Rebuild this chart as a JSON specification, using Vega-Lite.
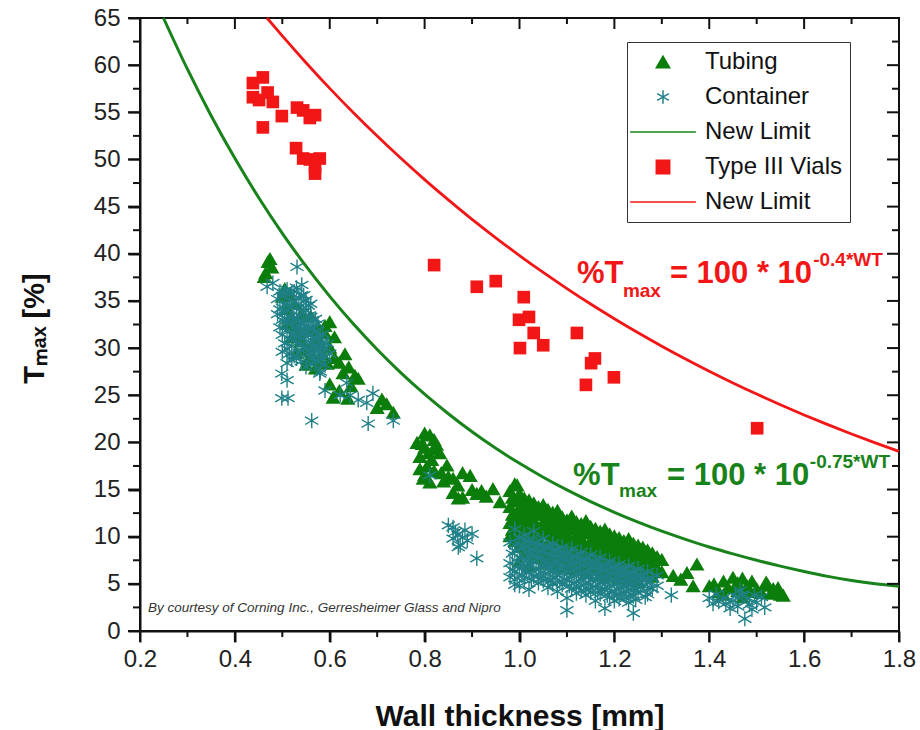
{
  "$schema": "https://vega.github.io/schema/vega-lite/v6.json",
  "width": 759,
  "height": 613,
  "autosize": {"type": "none"},
  "padding": {"left": 140, "top": 18, "right": 21, "bottom": 99},
  "background": "white",
  "config": {"view": {"stroke": "#111", "strokeWidth": 2}, "font": "Liberation Sans"},
  "datasets": {
    "xMajor": [{"v":0.2},{"v":0.4},{"v":0.6},{"v":0.8},{"v":1.0},{"v":1.2},{"v":1.4},{"v":1.6},{"v":1.8}],
    "xMinor": [{"v":0.3},{"v":0.5},{"v":0.7},{"v":0.9},{"v":1.1},{"v":1.3},{"v":1.5},{"v":1.7}],
    "yMajor": [{"v":0},{"v":5},{"v":10},{"v":15},{"v":20},{"v":25},{"v":30},{"v":35},{"v":40},{"v":45},{"v":50},{"v":55},{"v":60},{"v":65}],
    "yMinor": [{"v":2.5},{"v":7.5},{"v":12.5},{"v":17.5},{"v":22.5},{"v":27.5},{"v":32.5},{"v":37.5},{"v":42.5},{"v":47.5},{"v":52.5},{"v":57.5},{"v":62.5}],
    "tubing": [
      {"x":0.465,"y":38.0,"s":"Tubing"},{"x":0.470,"y":39.2,"s":"Tubing"},{"x":0.474,"y":39.5,"s":"Tubing"},{"x":0.478,"y":38.6,"s":"Tubing"},{"x":0.462,"y":37.6,"s":"Tubing"},
      {"x":0.50,"y":35.5,"s":"Tubing"},{"x":0.505,"y":36.3,"s":"Tubing"},{"x":0.51,"y":34.2,"s":"Tubing"},{"x":0.515,"y":35.8,"s":"Tubing"},{"x":0.52,"y":33.0,"s":"Tubing"},{"x":0.525,"y":34.8,"s":"Tubing"},{"x":0.53,"y":32.4,"s":"Tubing"},{"x":0.535,"y":31.5,"s":"Tubing"},{"x":0.54,"y":30.8,"s":"Tubing"},{"x":0.545,"y":29.8,"s":"Tubing"},{"x":0.55,"y":31.9,"s":"Tubing"},{"x":0.555,"y":28.9,"s":"Tubing"},{"x":0.56,"y":30.2,"s":"Tubing"},{"x":0.565,"y":29.1,"s":"Tubing"},{"x":0.57,"y":31.0,"s":"Tubing"},{"x":0.575,"y":32.3,"s":"Tubing"},{"x":0.58,"y":30.6,"s":"Tubing"},{"x":0.585,"y":29.4,"s":"Tubing"},{"x":0.59,"y":31.6,"s":"Tubing"},{"x":0.60,"y":30.1,"s":"Tubing"},{"x":0.595,"y":28.4,"s":"Tubing"},{"x":0.55,"y":28.3,"s":"Tubing"},{"x":0.53,"y":29.5,"s":"Tubing"},{"x":0.52,"y":31.2,"s":"Tubing"},{"x":0.54,"y":33.6,"s":"Tubing"},{"x":0.51,"y":32.6,"s":"Tubing"},{"x":0.56,"y":33.4,"s":"Tubing"},{"x":0.59,"y":32.4,"s":"Tubing"},{"x":0.565,"y":31.9,"s":"Tubing"},{"x":0.632,"y":29.4,"s":"Tubing"},{"x":0.58,"y":28.6,"s":"Tubing"},{"x":0.57,"y":27.9,"s":"Tubing"},{"x":0.60,"y":32.8,"s":"Tubing"},{"x":0.61,"y":31.2,"s":"Tubing"},
      {"x":0.628,"y":27.4,"s":"Tubing"},{"x":0.638,"y":24.7,"s":"Tubing"},{"x":0.607,"y":24.8,"s":"Tubing"},{"x":0.653,"y":27.1,"s":"Tubing"},{"x":0.72,"y":24.1,"s":"Tubing"},{"x":0.734,"y":23.2,"s":"Tubing"},{"x":0.70,"y":23.7,"s":"Tubing"},{"x":0.61,"y":29.0,"s":"Tubing"},{"x":0.62,"y":28.5,"s":"Tubing"},{"x":0.64,"y":28.0,"s":"Tubing"},{"x":0.66,"y":26.8,"s":"Tubing"},{"x":0.60,"y":26.2,"s":"Tubing"},{"x":0.62,"y":25.5,"s":"Tubing"},{"x":0.645,"y":26.0,"s":"Tubing"},{"x":0.71,"y":24.6,"s":"Tubing"},
      {"x":0.784,"y":20.0,"s":"Tubing"},{"x":0.811,"y":20.8,"s":"Tubing"},{"x":0.797,"y":16.2,"s":"Tubing"},{"x":0.811,"y":15.8,"s":"Tubing"},{"x":0.832,"y":18.9,"s":"Tubing"},{"x":0.847,"y":17.6,"s":"Tubing"},{"x":0.86,"y":14.7,"s":"Tubing"},{"x":0.871,"y":14.1,"s":"Tubing"},{"x":0.79,"y":18.5,"s":"Tubing"},{"x":0.80,"y":19.5,"s":"Tubing"},{"x":0.805,"y":17.5,"s":"Tubing"},{"x":0.815,"y":18.2,"s":"Tubing"},{"x":0.82,"y":17.0,"s":"Tubing"},{"x":0.825,"y":19.8,"s":"Tubing"},{"x":0.79,"y":17.2,"s":"Tubing"},{"x":0.80,"y":21.0,"s":"Tubing"},{"x":0.82,"y":20.3,"s":"Tubing"},{"x":0.835,"y":16.8,"s":"Tubing"},{"x":0.795,"y":19.9,"s":"Tubing"},{"x":0.808,"y":18.9,"s":"Tubing"},{"x":0.818,"y":19.3,"s":"Tubing"},{"x":0.80,"y":16.6,"s":"Tubing"},{"x":0.84,"y":15.9,"s":"Tubing"},{"x":0.85,"y":16.4,"s":"Tubing"},
      {"x":0.896,"y":16.5,"s":"Tubing"},{"x":0.944,"y":15.1,"s":"Tubing"},{"x":0.959,"y":13.7,"s":"Tubing"},{"x":0.995,"y":15.5,"s":"Tubing"},{"x":0.87,"y":15.5,"s":"Tubing"},{"x":0.88,"y":14.2,"s":"Tubing"},{"x":0.90,"y":15.0,"s":"Tubing"},{"x":0.91,"y":14.6,"s":"Tubing"},{"x":0.92,"y":14.9,"s":"Tubing"},{"x":0.93,"y":14.3,"s":"Tubing"},{"x":0.86,"y":16.2,"s":"Tubing"},{"x":0.88,"y":16.8,"s":"Tubing"},
      {"x":0.98,"y":14.9,"s":"Tubing"},{"x":0.98,"y":13.2,"s":"Tubing"},{"x":0.98,"y":11.5,"s":"Tubing"},{"x":0.98,"y":10.1,"s":"Tubing"},
      {"x":0.985,"y":14.2,"s":"Tubing"},{"x":0.985,"y":12.4,"s":"Tubing"},{"x":0.985,"y":10.8,"s":"Tubing"},
      {"x":0.99,"y":15.6,"s":"Tubing"},{"x":0.99,"y":13.8,"s":"Tubing"},{"x":0.99,"y":12.0,"s":"Tubing"},{"x":0.99,"y":9.6,"s":"Tubing"},
      {"x":0.995,"y":14.0,"s":"Tubing"},{"x":0.995,"y":12.6,"s":"Tubing"},{"x":0.995,"y":10.4,"s":"Tubing"},
      {"x":1.00,"y":14.6,"s":"Tubing"},{"x":1.00,"y":12.9,"s":"Tubing"},{"x":1.00,"y":11.2,"s":"Tubing"},{"x":1.00,"y":9.0,"s":"Tubing"},{"x":1.00,"y":7.4,"s":"Tubing"},
      {"x":1.005,"y":13.5,"s":"Tubing"},{"x":1.005,"y":11.8,"s":"Tubing"},{"x":1.005,"y":9.9,"s":"Tubing"},
      {"x":1.01,"y":14.1,"s":"Tubing"},{"x":1.01,"y":12.5,"s":"Tubing"},{"x":1.01,"y":10.6,"s":"Tubing"},{"x":1.01,"y":8.3,"s":"Tubing"},
      {"x":1.015,"y":13.4,"s":"Tubing"},{"x":1.015,"y":11.5,"s":"Tubing"},{"x":1.015,"y":9.4,"s":"Tubing"},
      {"x":1.02,"y":13.9,"s":"Tubing"},{"x":1.02,"y":12.2,"s":"Tubing"},{"x":1.02,"y":10.9,"s":"Tubing"},{"x":1.02,"y":8.8,"s":"Tubing"},{"x":1.02,"y":6.9,"s":"Tubing"},
      {"x":1.025,"y":13.1,"s":"Tubing"},{"x":1.025,"y":11.2,"s":"Tubing"},{"x":1.025,"y":9.7,"s":"Tubing"},
      {"x":1.03,"y":13.6,"s":"Tubing"},{"x":1.03,"y":11.8,"s":"Tubing"},{"x":1.03,"y":10.2,"s":"Tubing"},{"x":1.03,"y":7.8,"s":"Tubing"},
      {"x":1.035,"y":12.9,"s":"Tubing"},{"x":1.035,"y":11.0,"s":"Tubing"},{"x":1.035,"y":9.1,"s":"Tubing"},
      {"x":1.04,"y":13.2,"s":"Tubing"},{"x":1.04,"y":12.4,"s":"Tubing"},{"x":1.04,"y":9.9,"s":"Tubing"},{"x":1.04,"y":8.1,"s":"Tubing"},
      {"x":1.045,"y":12.7,"s":"Tubing"},{"x":1.045,"y":10.8,"s":"Tubing"},{"x":1.045,"y":8.9,"s":"Tubing"},
      {"x":1.05,"y":13.4,"s":"Tubing"},{"x":1.05,"y":11.6,"s":"Tubing"},{"x":1.05,"y":10.4,"s":"Tubing"},{"x":1.05,"y":7.2,"s":"Tubing"},
      {"x":1.055,"y":12.4,"s":"Tubing"},{"x":1.055,"y":10.9,"s":"Tubing"},{"x":1.055,"y":8.6,"s":"Tubing"},
      {"x":1.06,"y":12.9,"s":"Tubing"},{"x":1.06,"y":11.3,"s":"Tubing"},{"x":1.06,"y":9.5,"s":"Tubing"},{"x":1.06,"y":8.0,"s":"Tubing"},
      {"x":1.065,"y":12.2,"s":"Tubing"},{"x":1.065,"y":10.5,"s":"Tubing"},{"x":1.065,"y":8.8,"s":"Tubing"},
      {"x":1.07,"y":12.6,"s":"Tubing"},{"x":1.07,"y":11.0,"s":"Tubing"},{"x":1.07,"y":9.8,"s":"Tubing"},{"x":1.07,"y":7.5,"s":"Tubing"},
      {"x":1.075,"y":12.0,"s":"Tubing"},{"x":1.075,"y":10.2,"s":"Tubing"},{"x":1.075,"y":8.5,"s":"Tubing"},
      {"x":1.08,"y":12.8,"s":"Tubing"},{"x":1.08,"y":11.4,"s":"Tubing"},{"x":1.08,"y":9.2,"s":"Tubing"},{"x":1.08,"y":6.8,"s":"Tubing"},
      {"x":1.085,"y":11.9,"s":"Tubing"},{"x":1.085,"y":10.0,"s":"Tubing"},{"x":1.085,"y":8.2,"s":"Tubing"},
      {"x":1.09,"y":12.1,"s":"Tubing"},{"x":1.09,"y":10.7,"s":"Tubing"},{"x":1.09,"y":9.4,"s":"Tubing"},{"x":1.09,"y":7.7,"s":"Tubing"},
      {"x":1.095,"y":11.6,"s":"Tubing"},{"x":1.095,"y":9.9,"s":"Tubing"},{"x":1.095,"y":8.4,"s":"Tubing"},
      {"x":1.10,"y":11.8,"s":"Tubing"},{"x":1.10,"y":10.3,"s":"Tubing"},{"x":1.10,"y":8.9,"s":"Tubing"},{"x":1.10,"y":7.1,"s":"Tubing"},
      {"x":1.105,"y":11.3,"s":"Tubing"},{"x":1.105,"y":9.6,"s":"Tubing"},{"x":1.105,"y":8.0,"s":"Tubing"},
      {"x":1.11,"y":12.2,"s":"Tubing"},{"x":1.11,"y":10.8,"s":"Tubing"},{"x":1.11,"y":9.1,"s":"Tubing"},{"x":1.11,"y":6.6,"s":"Tubing"},
      {"x":1.115,"y":11.5,"s":"Tubing"},{"x":1.115,"y":9.7,"s":"Tubing"},{"x":1.115,"y":7.9,"s":"Tubing"},
      {"x":1.12,"y":11.6,"s":"Tubing"},{"x":1.12,"y":10.1,"s":"Tubing"},{"x":1.12,"y":8.6,"s":"Tubing"},{"x":1.12,"y":7.3,"s":"Tubing"},
      {"x":1.125,"y":11.0,"s":"Tubing"},{"x":1.125,"y":9.4,"s":"Tubing"},{"x":1.125,"y":7.8,"s":"Tubing"},
      {"x":1.13,"y":11.4,"s":"Tubing"},{"x":1.13,"y":9.9,"s":"Tubing"},{"x":1.13,"y":8.4,"s":"Tubing"},{"x":1.13,"y":6.9,"s":"Tubing"},
      {"x":1.135,"y":10.9,"s":"Tubing"},{"x":1.135,"y":9.2,"s":"Tubing"},{"x":1.135,"y":7.6,"s":"Tubing"},
      {"x":1.14,"y":11.7,"s":"Tubing"},{"x":1.14,"y":10.4,"s":"Tubing"},{"x":1.14,"y":8.8,"s":"Tubing"},{"x":1.14,"y":6.2,"s":"Tubing"},
      {"x":1.145,"y":11.2,"s":"Tubing"},{"x":1.145,"y":9.0,"s":"Tubing"},{"x":1.145,"y":7.4,"s":"Tubing"},
      {"x":1.15,"y":11.1,"s":"Tubing"},{"x":1.15,"y":9.6,"s":"Tubing"},{"x":1.15,"y":8.0,"s":"Tubing"},{"x":1.15,"y":6.8,"s":"Tubing"},
      {"x":1.155,"y":10.6,"s":"Tubing"},{"x":1.155,"y":8.7,"s":"Tubing"},{"x":1.155,"y":7.2,"s":"Tubing"},
      {"x":1.16,"y":10.9,"s":"Tubing"},{"x":1.16,"y":9.4,"s":"Tubing"},{"x":1.16,"y":8.3,"s":"Tubing"},{"x":1.16,"y":6.5,"s":"Tubing"},
      {"x":1.165,"y":10.4,"s":"Tubing"},{"x":1.165,"y":8.9,"s":"Tubing"},{"x":1.165,"y":7.0,"s":"Tubing"},
      {"x":1.17,"y":10.6,"s":"Tubing"},{"x":1.17,"y":9.2,"s":"Tubing"},{"x":1.17,"y":7.8,"s":"Tubing"},{"x":1.17,"y":5.9,"s":"Tubing"},
      {"x":1.175,"y":10.1,"s":"Tubing"},{"x":1.175,"y":8.5,"s":"Tubing"},{"x":1.175,"y":6.9,"s":"Tubing"},
      {"x":1.18,"y":10.8,"s":"Tubing"},{"x":1.18,"y":9.5,"s":"Tubing"},{"x":1.18,"y":7.6,"s":"Tubing"},{"x":1.18,"y":6.4,"s":"Tubing"},
      {"x":1.185,"y":10.0,"s":"Tubing"},{"x":1.185,"y":8.2,"s":"Tubing"},{"x":1.185,"y":6.7,"s":"Tubing"},
      {"x":1.19,"y":10.3,"s":"Tubing"},{"x":1.19,"y":8.9,"s":"Tubing"},{"x":1.19,"y":7.4,"s":"Tubing"},{"x":1.19,"y":5.8,"s":"Tubing"},
      {"x":1.195,"y":9.7,"s":"Tubing"},{"x":1.195,"y":8.0,"s":"Tubing"},{"x":1.195,"y":6.5,"s":"Tubing"},
      {"x":1.20,"y":10.1,"s":"Tubing"},{"x":1.20,"y":8.7,"s":"Tubing"},{"x":1.20,"y":7.7,"s":"Tubing"},{"x":1.20,"y":6.1,"s":"Tubing"},
      {"x":1.205,"y":9.5,"s":"Tubing"},{"x":1.205,"y":7.9,"s":"Tubing"},{"x":1.205,"y":6.6,"s":"Tubing"},
      {"x":1.21,"y":9.9,"s":"Tubing"},{"x":1.21,"y":8.5,"s":"Tubing"},{"x":1.21,"y":7.2,"s":"Tubing"},{"x":1.21,"y":5.6,"s":"Tubing"},
      {"x":1.215,"y":9.2,"s":"Tubing"},{"x":1.215,"y":7.7,"s":"Tubing"},{"x":1.215,"y":6.3,"s":"Tubing"},
      {"x":1.22,"y":9.6,"s":"Tubing"},{"x":1.22,"y":8.3,"s":"Tubing"},{"x":1.22,"y":7.0,"s":"Tubing"},{"x":1.22,"y":5.9,"s":"Tubing"},
      {"x":1.225,"y":9.0,"s":"Tubing"},{"x":1.225,"y":7.5,"s":"Tubing"},{"x":1.225,"y":6.2,"s":"Tubing"},
      {"x":1.23,"y":9.8,"s":"Tubing"},{"x":1.23,"y":8.1,"s":"Tubing"},{"x":1.23,"y":6.8,"s":"Tubing"},{"x":1.23,"y":5.4,"s":"Tubing"},
      {"x":1.235,"y":8.8,"s":"Tubing"},{"x":1.235,"y":7.3,"s":"Tubing"},{"x":1.235,"y":6.0,"s":"Tubing"},
      {"x":1.24,"y":9.3,"s":"Tubing"},{"x":1.24,"y":8.4,"s":"Tubing"},{"x":1.24,"y":6.6,"s":"Tubing"},{"x":1.24,"y":5.7,"s":"Tubing"},
      {"x":1.245,"y":8.6,"s":"Tubing"},{"x":1.245,"y":7.1,"s":"Tubing"},{"x":1.245,"y":5.9,"s":"Tubing"},
      {"x":1.25,"y":9.1,"s":"Tubing"},{"x":1.25,"y":7.9,"s":"Tubing"},{"x":1.25,"y":6.9,"s":"Tubing"},{"x":1.25,"y":5.2,"s":"Tubing"},
      {"x":1.255,"y":8.4,"s":"Tubing"},{"x":1.255,"y":6.8,"s":"Tubing"},
      {"x":1.26,"y":8.9,"s":"Tubing"},{"x":1.26,"y":7.6,"s":"Tubing"},{"x":1.26,"y":6.4,"s":"Tubing"},
      {"x":1.265,"y":8.1,"s":"Tubing"},{"x":1.265,"y":6.7,"s":"Tubing"},
      {"x":1.27,"y":8.6,"s":"Tubing"},{"x":1.27,"y":7.4,"s":"Tubing"},{"x":1.27,"y":6.1,"s":"Tubing"},
      {"x":1.275,"y":7.9,"s":"Tubing"},{"x":1.275,"y":6.5,"s":"Tubing"},
      {"x":1.28,"y":8.3,"s":"Tubing"},{"x":1.28,"y":7.1,"s":"Tubing"},{"x":1.28,"y":5.8,"s":"Tubing"},
      {"x":1.29,"y":7.9,"s":"Tubing"},{"x":1.29,"y":6.7,"s":"Tubing"},
      {"x":1.30,"y":7.6,"s":"Tubing"},{"x":1.30,"y":6.3,"s":"Tubing"},
      {"x":1.324,"y":5.9,"s":"Tubing"},{"x":1.353,"y":6.2,"s":"Tubing"},{"x":1.374,"y":7.1,"s":"Tubing"},{"x":1.366,"y":4.8,"s":"Tubing"},{"x":1.40,"y":4.8,"s":"Tubing"},{"x":1.34,"y":5.5,"s":"Tubing"},
      {"x":1.43,"y":5.3,"s":"Tubing"},{"x":1.45,"y":5.7,"s":"Tubing"},{"x":1.47,"y":5.6,"s":"Tubing"},{"x":1.49,"y":5.3,"s":"Tubing"},{"x":1.524,"y":4.85,"s":"Tubing"},{"x":1.545,"y":4.6,"s":"Tubing"},{"x":1.556,"y":3.8,"s":"Tubing"},{"x":1.42,"y":4.2,"s":"Tubing"},{"x":1.44,"y":4.6,"s":"Tubing"},{"x":1.46,"y":4.3,"s":"Tubing"},{"x":1.48,"y":4.8,"s":"Tubing"},{"x":1.50,"y":4.5,"s":"Tubing"},{"x":1.51,"y":4.1,"s":"Tubing"},{"x":1.53,"y":4.0,"s":"Tubing"},{"x":1.55,"y":3.9,"s":"Tubing"},{"x":1.43,"y":3.9,"s":"Tubing"},{"x":1.47,"y":3.6,"s":"Tubing"},{"x":1.41,"y":5.0,"s":"Tubing"},{"x":1.52,"y":5.2,"s":"Tubing"},{"x":1.46,"y":5.1,"s":"Tubing"},{"x":1.455,"y":4.8,"s":"Tubing"},{"x":1.485,"y":4.2,"s":"Tubing"},{"x":1.535,"y":4.5,"s":"Tubing"}
    ],
    "container": [
      {"x":0.531,"y":38.6,"s":"Container"},{"x":0.468,"y":36.5,"s":"Container"},{"x":0.541,"y":36.7,"s":"Container"},{"x":0.48,"y":36.9,"s":"Container"},
      {"x":0.49,"y":35.2,"s":"Container"},{"x":0.49,"y":33.6,"s":"Container"},{"x":0.495,"y":34.1,"s":"Container"},{"x":0.495,"y":32.2,"s":"Container"},{"x":0.495,"y":36.0,"s":"Container"},
      {"x":0.50,"y":35.5,"s":"Container"},{"x":0.50,"y":33.0,"s":"Container"},{"x":0.50,"y":31.4,"s":"Container"},{"x":0.50,"y":29.6,"s":"Container"},{"x":0.50,"y":34.3,"s":"Container"},
      {"x":0.505,"y":34.6,"s":"Container"},{"x":0.505,"y":32.8,"s":"Container"},{"x":0.505,"y":30.5,"s":"Container"},{"x":0.505,"y":35.9,"s":"Container"},
      {"x":0.51,"y":36.2,"s":"Container"},{"x":0.51,"y":34.0,"s":"Container"},{"x":0.51,"y":31.9,"s":"Container"},{"x":0.51,"y":29.9,"s":"Container"},{"x":0.51,"y":28.4,"s":"Container"},{"x":0.51,"y":33.1,"s":"Container"},
      {"x":0.515,"y":35.1,"s":"Container"},{"x":0.515,"y":33.3,"s":"Container"},{"x":0.515,"y":31.0,"s":"Container"},{"x":0.515,"y":29.4,"s":"Container"},
      {"x":0.52,"y":35.8,"s":"Container"},{"x":0.52,"y":34.4,"s":"Container"},{"x":0.52,"y":32.5,"s":"Container"},{"x":0.52,"y":30.2,"s":"Container"},{"x":0.52,"y":28.8,"s":"Container"},{"x":0.52,"y":31.4,"s":"Container"},
      {"x":0.525,"y":34.9,"s":"Container"},{"x":0.525,"y":33.1,"s":"Container"},{"x":0.525,"y":31.5,"s":"Container"},{"x":0.525,"y":29.2,"s":"Container"},{"x":0.525,"y":36.0,"s":"Container"},
      {"x":0.53,"y":36.4,"s":"Container"},{"x":0.53,"y":34.2,"s":"Container"},{"x":0.53,"y":32.0,"s":"Container"},{"x":0.53,"y":30.7,"s":"Container"},{"x":0.53,"y":33.2,"s":"Container"},{"x":0.53,"y":28.9,"s":"Container"},
      {"x":0.535,"y":35.3,"s":"Container"},{"x":0.535,"y":33.5,"s":"Container"},{"x":0.535,"y":31.2,"s":"Container"},{"x":0.535,"y":29.5,"s":"Container"},{"x":0.535,"y":32.4,"s":"Container"},
      {"x":0.54,"y":34.5,"s":"Container"},{"x":0.54,"y":32.7,"s":"Container"},{"x":0.54,"y":30.4,"s":"Container"},{"x":0.54,"y":28.6,"s":"Container"},{"x":0.54,"y":35.6,"s":"Container"},{"x":0.54,"y":31.5,"s":"Container"},
      {"x":0.545,"y":35.6,"s":"Container"},{"x":0.545,"y":33.8,"s":"Container"},{"x":0.545,"y":31.7,"s":"Container"},{"x":0.545,"y":30.1,"s":"Container"},{"x":0.545,"y":32.6,"s":"Container"},
      {"x":0.55,"y":34.0,"s":"Container"},{"x":0.55,"y":32.3,"s":"Container"},{"x":0.55,"y":30.0,"s":"Container"},{"x":0.55,"y":28.0,"s":"Container"},{"x":0.55,"y":35.1,"s":"Container"},{"x":0.55,"y":31.2,"s":"Container"},
      {"x":0.555,"y":33.4,"s":"Container"},{"x":0.555,"y":31.4,"s":"Container"},{"x":0.555,"y":29.3,"s":"Container"},{"x":0.555,"y":34.5,"s":"Container"},{"x":0.555,"y":32.2,"s":"Container"},
      {"x":0.56,"y":34.7,"s":"Container"},{"x":0.56,"y":32.1,"s":"Container"},{"x":0.56,"y":30.6,"s":"Container"},{"x":0.56,"y":28.3,"s":"Container"},{"x":0.56,"y":33.3,"s":"Container"},{"x":0.56,"y":29.5,"s":"Container"},
      {"x":0.565,"y":33.0,"s":"Container"},{"x":0.565,"y":31.1,"s":"Container"},{"x":0.565,"y":29.0,"s":"Container"},{"x":0.565,"y":32.1,"s":"Container"},{"x":0.565,"y":30.2,"s":"Container"},
      {"x":0.57,"y":31.8,"s":"Container"},{"x":0.57,"y":30.3,"s":"Container"},{"x":0.57,"y":28.7,"s":"Container"},{"x":0.57,"y":33.1,"s":"Container"},{"x":0.57,"y":29.6,"s":"Container"},
      {"x":0.575,"y":32.6,"s":"Container"},{"x":0.575,"y":29.8,"s":"Container"},{"x":0.575,"y":31.0,"s":"Container"},{"x":0.575,"y":28.5,"s":"Container"},
      {"x":0.58,"y":31.3,"s":"Container"},{"x":0.58,"y":29.5,"s":"Container"},{"x":0.58,"y":27.5,"s":"Container"},{"x":0.58,"y":30.4,"s":"Container"},
      {"x":0.585,"y":30.6,"s":"Container"},{"x":0.585,"y":28.9,"s":"Container"},{"x":0.585,"y":31.5,"s":"Container"},{"x":0.59,"y":30.0,"s":"Container"},{"x":0.59,"y":28.2,"s":"Container"},{"x":0.59,"y":29.1,"s":"Container"},{"x":0.60,"y":29.4,"s":"Container"},{"x":0.595,"y":30.5,"s":"Container"},
      {"x":0.499,"y":27.3,"s":"Container"},{"x":0.51,"y":26.6,"s":"Container"},{"x":0.499,"y":24.7,"s":"Container"},{"x":0.512,"y":24.7,"s":"Container"},{"x":0.562,"y":22.3,"s":"Container"},{"x":0.59,"y":25.5,"s":"Container"},{"x":0.579,"y":27.3,"s":"Container"},{"x":0.622,"y":25.0,"s":"Container"},{"x":0.643,"y":25.0,"s":"Container"},{"x":0.66,"y":24.5,"s":"Container"},{"x":0.678,"y":24.2,"s":"Container"},{"x":0.691,"y":25.2,"s":"Container"},{"x":0.681,"y":22.0,"s":"Container"},{"x":0.734,"y":22.3,"s":"Container"},{"x":0.636,"y":26.3,"s":"Container"},
      {"x":0.811,"y":16.5,"s":"Container"},{"x":0.85,"y":11.2,"s":"Container"},{"x":0.86,"y":9.8,"s":"Container"},{"x":0.871,"y":8.9,"s":"Container"},{"x":0.885,"y":10.7,"s":"Container"},{"x":0.875,"y":9.1,"s":"Container"},{"x":0.91,"y":7.7,"s":"Container"},{"x":0.87,"y":10.2,"s":"Container"},{"x":0.89,"y":9.6,"s":"Container"},{"x":0.86,"y":11.0,"s":"Container"},{"x":0.90,"y":10.3,"s":"Container"},{"x":0.865,"y":10.5,"s":"Container"},{"x":0.88,"y":9.9,"s":"Container"},
      {"x":0.98,"y":9.4,"s":"Container"},{"x":0.98,"y":7.2,"s":"Container"},{"x":0.98,"y":5.7,"s":"Container"},{"x":0.985,"y":8.2,"s":"Container"},{"x":0.985,"y":6.5,"s":"Container"},
      {"x":0.99,"y":10.8,"s":"Container"},{"x":0.99,"y":8.5,"s":"Container"},{"x":0.99,"y":6.3,"s":"Container"},{"x":0.99,"y":4.9,"s":"Container"},{"x":0.995,"y":9.3,"s":"Container"},{"x":0.995,"y":7.4,"s":"Container"},{"x":0.995,"y":5.6,"s":"Container"},
      {"x":1.00,"y":9.9,"s":"Container"},{"x":1.00,"y":7.8,"s":"Container"},{"x":1.00,"y":6.6,"s":"Container"},{"x":1.00,"y":4.8,"s":"Container"},{"x":1.005,"y":8.8,"s":"Container"},{"x":1.005,"y":7.1,"s":"Container"},{"x":1.005,"y":5.9,"s":"Container"},
      {"x":1.01,"y":10.2,"s":"Container"},{"x":1.01,"y":8.9,"s":"Container"},{"x":1.01,"y":7.0,"s":"Container"},{"x":1.01,"y":5.5,"s":"Container"},{"x":1.015,"y":9.6,"s":"Container"},{"x":1.015,"y":7.6,"s":"Container"},{"x":1.015,"y":6.4,"s":"Container"},
      {"x":1.02,"y":9.5,"s":"Container"},{"x":1.02,"y":8.1,"s":"Container"},{"x":1.02,"y":6.2,"s":"Container"},{"x":1.02,"y":4.4,"s":"Container"},{"x":1.025,"y":8.7,"s":"Container"},{"x":1.025,"y":7.0,"s":"Container"},{"x":1.025,"y":5.4,"s":"Container"},
      {"x":1.03,"y":10.6,"s":"Container"},{"x":1.03,"y":8.6,"s":"Container"},{"x":1.03,"y":7.4,"s":"Container"},{"x":1.03,"y":5.8,"s":"Container"},{"x":1.035,"y":9.4,"s":"Container"},{"x":1.035,"y":8.0,"s":"Container"},{"x":1.035,"y":6.5,"s":"Container"},
      {"x":1.04,"y":9.1,"s":"Container"},{"x":1.04,"y":7.7,"s":"Container"},{"x":1.04,"y":6.0,"s":"Container"},{"x":1.04,"y":5.1,"s":"Container"},{"x":1.045,"y":8.5,"s":"Container"},{"x":1.045,"y":6.9,"s":"Container"},{"x":1.045,"y":5.6,"s":"Container"},
      {"x":1.05,"y":9.8,"s":"Container"},{"x":1.05,"y":8.4,"s":"Container"},{"x":1.05,"y":6.8,"s":"Container"},{"x":1.05,"y":5.3,"s":"Container"},{"x":1.055,"y":9.0,"s":"Container"},{"x":1.055,"y":7.5,"s":"Container"},{"x":1.055,"y":6.1,"s":"Container"},
      {"x":1.06,"y":8.8,"s":"Container"},{"x":1.06,"y":7.1,"s":"Container"},{"x":1.06,"y":5.6,"s":"Container"},{"x":1.06,"y":4.6,"s":"Container"},{"x":1.065,"y":8.1,"s":"Container"},{"x":1.065,"y":6.7,"s":"Container"},{"x":1.065,"y":5.3,"s":"Container"},
      {"x":1.07,"y":9.3,"s":"Container"},{"x":1.07,"y":7.9,"s":"Container"},{"x":1.07,"y":6.4,"s":"Container"},{"x":1.07,"y":5.0,"s":"Container"},{"x":1.075,"y":8.6,"s":"Container"},{"x":1.075,"y":7.2,"s":"Container"},{"x":1.075,"y":5.7,"s":"Container"},
      {"x":1.08,"y":8.6,"s":"Container"},{"x":1.08,"y":7.3,"s":"Container"},{"x":1.08,"y":5.9,"s":"Container"},{"x":1.08,"y":4.2,"s":"Container"},{"x":1.085,"y":7.9,"s":"Container"},{"x":1.085,"y":6.6,"s":"Container"},{"x":1.085,"y":5.2,"s":"Container"},
      {"x":1.09,"y":8.9,"s":"Container"},{"x":1.09,"y":7.6,"s":"Container"},{"x":1.09,"y":6.1,"s":"Container"},{"x":1.09,"y":4.9,"s":"Container"},{"x":1.095,"y":8.3,"s":"Container"},{"x":1.095,"y":6.8,"s":"Container"},{"x":1.095,"y":5.5,"s":"Container"},
      {"x":1.10,"y":8.2,"s":"Container"},{"x":1.10,"y":6.9,"s":"Container"},{"x":1.10,"y":5.4,"s":"Container"},{"x":1.10,"y":3.5,"s":"Container"},{"x":1.10,"y":2.2,"s":"Container"},{"x":1.105,"y":7.6,"s":"Container"},{"x":1.105,"y":6.2,"s":"Container"},{"x":1.105,"y":4.8,"s":"Container"},
      {"x":1.11,"y":8.7,"s":"Container"},{"x":1.11,"y":7.2,"s":"Container"},{"x":1.11,"y":5.8,"s":"Container"},{"x":1.11,"y":4.5,"s":"Container"},{"x":1.115,"y":8.0,"s":"Container"},{"x":1.115,"y":6.5,"s":"Container"},{"x":1.115,"y":5.1,"s":"Container"},
      {"x":1.12,"y":7.9,"s":"Container"},{"x":1.12,"y":6.6,"s":"Container"},{"x":1.12,"y":5.2,"s":"Container"},{"x":1.12,"y":4.0,"s":"Container"},{"x":1.125,"y":7.3,"s":"Container"},{"x":1.125,"y":6.0,"s":"Container"},{"x":1.125,"y":4.6,"s":"Container"},
      {"x":1.13,"y":8.4,"s":"Container"},{"x":1.13,"y":7.0,"s":"Container"},{"x":1.13,"y":5.5,"s":"Container"},{"x":1.13,"y":4.3,"s":"Container"},{"x":1.135,"y":7.7,"s":"Container"},{"x":1.135,"y":6.2,"s":"Container"},{"x":1.135,"y":4.9,"s":"Container"},
      {"x":1.14,"y":7.6,"s":"Container"},{"x":1.14,"y":6.3,"s":"Container"},{"x":1.14,"y":5.0,"s":"Container"},{"x":1.14,"y":3.8,"s":"Container"},{"x":1.145,"y":7.1,"s":"Container"},{"x":1.145,"y":5.7,"s":"Container"},{"x":1.145,"y":4.4,"s":"Container"},
      {"x":1.15,"y":8.1,"s":"Container"},{"x":1.15,"y":6.8,"s":"Container"},{"x":1.15,"y":5.4,"s":"Container"},{"x":1.15,"y":4.1,"s":"Container"},{"x":1.155,"y":7.4,"s":"Container"},{"x":1.155,"y":6.0,"s":"Container"},{"x":1.155,"y":4.7,"s":"Container"},
      {"x":1.16,"y":7.3,"s":"Container"},{"x":1.16,"y":6.0,"s":"Container"},{"x":1.16,"y":4.7,"s":"Container"},{"x":1.16,"y":3.2,"s":"Container"},{"x":1.165,"y":6.8,"s":"Container"},{"x":1.165,"y":5.4,"s":"Container"},{"x":1.165,"y":4.1,"s":"Container"},
      {"x":1.17,"y":7.8,"s":"Container"},{"x":1.17,"y":6.5,"s":"Container"},{"x":1.17,"y":5.1,"s":"Container"},{"x":1.17,"y":3.9,"s":"Container"},{"x":1.175,"y":7.0,"s":"Container"},{"x":1.175,"y":5.8,"s":"Container"},{"x":1.175,"y":4.5,"s":"Container"},
      {"x":1.18,"y":7.0,"s":"Container"},{"x":1.18,"y":5.7,"s":"Container"},{"x":1.18,"y":4.4,"s":"Container"},{"x":1.18,"y":2.4,"s":"Container"},{"x":1.185,"y":6.5,"s":"Container"},{"x":1.185,"y":5.1,"s":"Container"},{"x":1.185,"y":3.8,"s":"Container"},
      {"x":1.19,"y":7.4,"s":"Container"},{"x":1.19,"y":6.2,"s":"Container"},{"x":1.19,"y":4.9,"s":"Container"},{"x":1.19,"y":3.6,"s":"Container"},{"x":1.195,"y":6.8,"s":"Container"},{"x":1.195,"y":5.5,"s":"Container"},{"x":1.195,"y":4.2,"s":"Container"},
      {"x":1.20,"y":6.8,"s":"Container"},{"x":1.20,"y":5.5,"s":"Container"},{"x":1.20,"y":4.2,"s":"Container"},{"x":1.20,"y":3.2,"s":"Container"},{"x":1.205,"y":6.3,"s":"Container"},{"x":1.205,"y":5.0,"s":"Container"},{"x":1.205,"y":3.8,"s":"Container"},
      {"x":1.21,"y":7.1,"s":"Container"},{"x":1.21,"y":5.9,"s":"Container"},{"x":1.21,"y":4.6,"s":"Container"},{"x":1.21,"y":3.4,"s":"Container"},{"x":1.215,"y":6.6,"s":"Container"},{"x":1.215,"y":5.3,"s":"Container"},{"x":1.215,"y":4.1,"s":"Container"},
      {"x":1.22,"y":6.5,"s":"Container"},{"x":1.22,"y":5.2,"s":"Container"},{"x":1.22,"y":4.0,"s":"Container"},{"x":1.225,"y":6.0,"s":"Container"},{"x":1.225,"y":4.7,"s":"Container"},{"x":1.225,"y":3.5,"s":"Container"},
      {"x":1.23,"y":6.9,"s":"Container"},{"x":1.23,"y":5.6,"s":"Container"},{"x":1.23,"y":4.4,"s":"Container"},{"x":1.23,"y":3.0,"s":"Container"},{"x":1.235,"y":6.3,"s":"Container"},{"x":1.235,"y":5.0,"s":"Container"},{"x":1.235,"y":3.9,"s":"Container"},
      {"x":1.24,"y":6.2,"s":"Container"},{"x":1.24,"y":5.0,"s":"Container"},{"x":1.24,"y":3.7,"s":"Container"},{"x":1.24,"y":1.9,"s":"Container"},{"x":1.245,"y":5.7,"s":"Container"},{"x":1.245,"y":4.5,"s":"Container"},{"x":1.245,"y":3.3,"s":"Container"},
      {"x":1.25,"y":6.6,"s":"Container"},{"x":1.25,"y":5.3,"s":"Container"},{"x":1.25,"y":4.1,"s":"Container"},{"x":1.255,"y":5.9,"s":"Container"},{"x":1.255,"y":4.6,"s":"Container"},
      {"x":1.26,"y":5.9,"s":"Container"},{"x":1.26,"y":4.8,"s":"Container"},{"x":1.265,"y":3.6,"s":"Container"},{"x":1.265,"y":5.4,"s":"Container"},
      {"x":1.27,"y":6.3,"s":"Container"},{"x":1.27,"y":5.1,"s":"Container"},{"x":1.27,"y":3.9,"s":"Container"},{"x":1.275,"y":4.6,"s":"Container"},
      {"x":1.28,"y":5.6,"s":"Container"},{"x":1.28,"y":4.5,"s":"Container"},{"x":1.29,"y":4.8,"s":"Container"},{"x":1.29,"y":5.9,"s":"Container"},
      {"x":1.32,"y":3.8,"s":"Container"},
      {"x":1.408,"y":2.9,"s":"Container"},{"x":1.43,"y":3.5,"s":"Container"},{"x":1.465,"y":4.3,"s":"Container"},{"x":1.50,"y":3.0,"s":"Container"},{"x":1.517,"y":2.5,"s":"Container"},{"x":1.475,"y":1.3,"s":"Container"},{"x":1.444,"y":2.4,"s":"Container"},{"x":1.40,"y":3.5,"s":"Container"},{"x":1.42,"y":3.1,"s":"Container"},{"x":1.45,"y":3.2,"s":"Container"},{"x":1.46,"y":2.6,"s":"Container"},{"x":1.48,"y":3.4,"s":"Container"},{"x":1.49,"y":2.3,"s":"Container"},{"x":1.51,"y":3.6,"s":"Container"},{"x":1.47,"y":3.9,"s":"Container"},{"x":1.415,"y":3.9,"s":"Container"},{"x":1.435,"y":2.9,"s":"Container"},{"x":1.455,"y":3.7,"s":"Container"},{"x":1.485,"y":2.8,"s":"Container"},{"x":1.495,"y":3.8,"s":"Container"}
    ],
    "vials": [
      {"x":0.438,"y":58.1,"s":"Type III Vials"},{"x":0.459,"y":58.7,"s":"Type III Vials"},{"x":0.438,"y":56.6,"s":"Type III Vials"},{"x":0.451,"y":56.3,"s":"Type III Vials"},{"x":0.469,"y":57.1,"s":"Type III Vials"},{"x":0.480,"y":56.1,"s":"Type III Vials"},{"x":0.499,"y":54.6,"s":"Type III Vials"},{"x":0.459,"y":53.4,"s":"Type III Vials"},{"x":0.531,"y":55.5,"s":"Type III Vials"},{"x":0.544,"y":55.2,"s":"Type III Vials"},{"x":0.569,"y":54.7,"s":"Type III Vials"},{"x":0.558,"y":54.4,"s":"Type III Vials"},{"x":0.529,"y":51.2,"s":"Type III Vials"},{"x":0.544,"y":50.1,"s":"Type III Vials"},{"x":0.579,"y":50.1,"s":"Type III Vials"},{"x":0.569,"y":49.2,"s":"Type III Vials"},{"x":0.569,"y":48.5,"s":"Type III Vials"},{"x":0.558,"y":50.0,"s":"Type III Vials"},
      {"x":0.820,"y":38.8,"s":"Type III Vials"},{"x":0.910,"y":36.5,"s":"Type III Vials"},{"x":0.950,"y":37.1,"s":"Type III Vials"},{"x":1.009,"y":35.4,"s":"Type III Vials"},{"x":0.999,"y":33.0,"s":"Type III Vials"},{"x":1.020,"y":33.3,"s":"Type III Vials"},{"x":1.030,"y":31.6,"s":"Type III Vials"},{"x":1.001,"y":30.0,"s":"Type III Vials"},{"x":1.050,"y":30.3,"s":"Type III Vials"},{"x":1.121,"y":31.6,"s":"Type III Vials"},{"x":1.159,"y":28.9,"s":"Type III Vials"},{"x":1.151,"y":28.4,"s":"Type III Vials"},{"x":1.140,"y":26.1,"s":"Type III Vials"},{"x":1.199,"y":26.9,"s":"Type III Vials"},{"x":1.501,"y":21.5,"s":"Type III Vials"}
    ],
    "limitGreen": [
      {"x":0.2495,"y":65.0,"s":"New Limit"},{"x":0.30,"y":59.57,"s":"New Limit"},{"x":0.35,"y":54.64,"s":"New Limit"},{"x":0.40,"y":50.12,"s":"New Limit"},{"x":0.45,"y":45.97,"s":"New Limit"},{"x":0.50,"y":42.17,"s":"New Limit"},{"x":0.55,"y":38.68,"s":"New Limit"},{"x":0.60,"y":35.48,"s":"New Limit"},{"x":0.65,"y":32.54,"s":"New Limit"},{"x":0.70,"y":29.85,"s":"New Limit"},{"x":0.75,"y":27.38,"s":"New Limit"},{"x":0.80,"y":25.12,"s":"New Limit"},{"x":0.85,"y":23.04,"s":"New Limit"},{"x":0.90,"y":21.13,"s":"New Limit"},{"x":0.95,"y":19.38,"s":"New Limit"},{"x":1.00,"y":17.78,"s":"New Limit"},{"x":1.05,"y":16.31,"s":"New Limit"},{"x":1.10,"y":14.96,"s":"New Limit"},{"x":1.15,"y":13.72,"s":"New Limit"},{"x":1.20,"y":12.59,"s":"New Limit"},{"x":1.25,"y":11.55,"s":"New Limit"},{"x":1.30,"y":10.59,"s":"New Limit"},{"x":1.35,"y":9.72,"s":"New Limit"},{"x":1.40,"y":8.91,"s":"New Limit"},{"x":1.45,"y":8.18,"s":"New Limit"},{"x":1.50,"y":7.50,"s":"New Limit"},{"x":1.55,"y":6.88,"s":"New Limit"},{"x":1.60,"y":6.31,"s":"New Limit"},{"x":1.65,"y":5.79,"s":"New Limit"},{"x":1.70,"y":5.35,"s":"New Limit"},{"x":1.75,"y":5.0,"s":"New Limit"},{"x":1.80,"y":4.75,"s":"New Limit"}
    ],
    "limitRed": [
      {"x":0.4677,"y":65.0,"s":"New Limit "},{"x":0.50,"y":63.10,"s":"New Limit "},{"x":0.55,"y":60.26,"s":"New Limit "},{"x":0.60,"y":57.54,"s":"New Limit "},{"x":0.65,"y":54.95,"s":"New Limit "},{"x":0.70,"y":52.48,"s":"New Limit "},{"x":0.75,"y":50.12,"s":"New Limit "},{"x":0.80,"y":47.86,"s":"New Limit "},{"x":0.85,"y":45.71,"s":"New Limit "},{"x":0.90,"y":43.65,"s":"New Limit "},{"x":0.95,"y":41.69,"s":"New Limit "},{"x":1.00,"y":39.81,"s":"New Limit "},{"x":1.05,"y":38.02,"s":"New Limit "},{"x":1.10,"y":36.31,"s":"New Limit "},{"x":1.15,"y":34.67,"s":"New Limit "},{"x":1.20,"y":33.11,"s":"New Limit "},{"x":1.25,"y":31.62,"s":"New Limit "},{"x":1.30,"y":30.20,"s":"New Limit "},{"x":1.35,"y":28.84,"s":"New Limit "},{"x":1.40,"y":27.54,"s":"New Limit "},{"x":1.45,"y":26.30,"s":"New Limit "},{"x":1.50,"y":25.12,"s":"New Limit "},{"x":1.55,"y":23.99,"s":"New Limit "},{"x":1.60,"y":22.91,"s":"New Limit "},{"x":1.65,"y":21.88,"s":"New Limit "},{"x":1.70,"y":20.89,"s":"New Limit "},{"x":1.75,"y":19.95,"s":"New Limit "},{"x":1.80,"y":19.05,"s":"New Limit "}
    ]
  },
  "layer": [
    {
      "data": {"name": "tubing"},
      "mark": {"type": "point", "filled": true, "size": 230, "opacity": 1},
      "encoding": {
        "x": {"field": "x", "type": "quantitative", "scale": {"domain": [0.2, 1.8], "nice": false, "zero": false},
          "axis": {"orient": "bottom", "values": [0.2,0.4,0.6,0.8,1.0,1.2,1.4,1.6,1.8], "format": ".1f",
            "tickSize": 11, "tickWidth": 2, "tickColor": "#111", "domainColor": "#111", "domainWidth": 2, "grid": false,
            "labelFont": "Liberation Sans", "labelFontSize": 24, "labelColor": "#222", "labelPadding": 5, "labelFlush": false, "labelOverlap": false,
            "title": "Wall thickness [mm]", "titleFont": "Liberation Sans", "titleFontSize": 30, "titleFontWeight": "bold", "titleColor": "#111", "titleBaseline": "alphabetic", "titleY": 94}},
        "y": {"field": "y", "type": "quantitative", "scale": {"domain": [0, 65], "nice": false, "zero": false},
          "axis": {"orient": "left", "values": [0,5,10,15,20,25,30,35,40,45,50,55,60,65], "format": "d",
            "tickSize": 12, "tickWidth": 2, "tickColor": "#111", "domainColor": "#111", "domainWidth": 2, "grid": false,
            "labelFont": "Liberation Sans", "labelFontSize": 24, "labelColor": "#222", "labelPadding": 8, "labelFlush": false, "labelOverlap": false,
            "title": "Tₘₐₓ [%]", "titleFont": "Liberation Sans", "titleFontSize": 29, "titleFontWeight": "bold", "titleColor": "#111", "titleBaseline": "alphabetic", "titleAlign": "center", "titleAngle": 270, "titleX": -97, "titleY": 310}},
        "color": {"field": "s", "type": "nominal",
          "scale": {"domain": ["Tubing","Container","New Limit","Type III Vials","New Limit "], "range": ["#0b7d0b","#1f8088","#17831a","#f21616","#f21616"]},
          "legend": {"orient": "none", "legendX": 487, "legendY": 24, "title": null, "strokeColor": "#333", "fillColor": "white", "padding": 8,
            "labelFont": "Liberation Sans", "labelFontSize": 24, "labelColor": "#111", "symbolSize": 180, "symbolOffset": 16, "labelOffset": 30, "rowPadding": 11,
            "encode": {"symbols": {"update": {"fill": {"scale": "color", "field": "value"}, "stroke": {"scale": "color", "field": "value"}, "strokeWidth": {"signal": "indexof(['New Limit','New Limit '], datum.value) >= 0 ? 3 : 1.2"}, "opacity": {"value": 1}}}}}},
        "shape": {"field": "s", "type": "nominal",
          "scale": {"domain": ["Tubing","Container","New Limit","Type III Vials","New Limit "], "range": ["triangle-up","M0,-1L0,1M-0.87,-0.5L0.87,0.5M-0.87,0.5L0.87,-0.5","M-4.9,0L4.9,0","square","M-4.9,0L4.9,0"]},
          "legend": {"orient": "none", "legendX": 487, "legendY": 24, "title": null}}
      }
    },
    {
      "data": {"name": "container"},
      "mark": {"type": "point", "filled": false, "size": 230, "strokeWidth": 1.4, "opacity": 1},
      "encoding": {
        "x": {"field": "x", "type": "quantitative"},
        "y": {"field": "y", "type": "quantitative"},
        "color": {"field": "s", "type": "nominal"},
        "shape": {"field": "s", "type": "nominal"}
      }
    },
    {
      "data": {"name": "vials"},
      "mark": {"type": "point", "filled": true, "size": 160, "opacity": 1},
      "encoding": {
        "x": {"field": "x", "type": "quantitative"},
        "y": {"field": "y", "type": "quantitative"},
        "color": {"field": "s", "type": "nominal"},
        "shape": {"field": "s", "type": "nominal"}
      }
    },
    {
      "data": {"name": "limitRed"},
      "mark": {"type": "line", "strokeWidth": 2.8, "interpolate": "monotone"},
      "encoding": {
        "x": {"field": "x", "type": "quantitative"},
        "y": {"field": "y", "type": "quantitative"},
        "color": {"field": "s", "type": "nominal"}
      }
    },
    {
      "data": {"name": "limitGreen"},
      "mark": {"type": "line", "strokeWidth": 3, "interpolate": "monotone"},
      "encoding": {
        "x": {"field": "x", "type": "quantitative"},
        "y": {"field": "y", "type": "quantitative"},
        "color": {"field": "s", "type": "nominal"}
      }
    },
    {
      "data": {"name": "xMajor"},
      "mark": {"type": "rule", "strokeWidth": 2, "color": "#111"},
      "encoding": {"x": {"field": "v", "type": "quantitative"}, "y": {"datum": 0, "type": "quantitative"}, "y2": {"datum": -1.17}}
    },
    {
      "data": {"name": "xMajor"},
      "mark": {"type": "rule", "strokeWidth": 2, "color": "#111"},
      "encoding": {"x": {"field": "v", "type": "quantitative"}, "y": {"datum": 65, "type": "quantitative"}, "y2": {"datum": 63.83}}
    },
    {
      "data": {"name": "xMinor"},
      "mark": {"type": "rule", "strokeWidth": 2, "color": "#111"},
      "encoding": {"x": {"field": "v", "type": "quantitative"}, "y": {"datum": 0, "type": "quantitative"}, "y2": {"datum": -0.64}}
    },
    {
      "data": {"name": "xMinor"},
      "mark": {"type": "rule", "strokeWidth": 2, "color": "#111"},
      "encoding": {"x": {"field": "v", "type": "quantitative"}, "y": {"datum": 65, "type": "quantitative"}, "y2": {"datum": 64.36}}
    },
    {
      "data": {"name": "yMajor"},
      "mark": {"type": "rule", "strokeWidth": 2, "color": "#111"},
      "encoding": {"y": {"field": "v", "type": "quantitative"}, "x": {"datum": 0.2, "type": "quantitative"}, "x2": {"datum": 0.1747}}
    },
    {
      "data": {"name": "yMajor"},
      "mark": {"type": "rule", "strokeWidth": 2, "color": "#111"},
      "encoding": {"y": {"field": "v", "type": "quantitative"}, "x": {"datum": 1.8, "type": "quantitative"}, "x2": {"datum": 1.7747}}
    },
    {
      "data": {"name": "yMinor"},
      "mark": {"type": "rule", "strokeWidth": 2, "color": "#111"},
      "encoding": {"y": {"field": "v", "type": "quantitative"}, "x": {"datum": 0.2, "type": "quantitative"}, "x2": {"datum": 0.1852}}
    },
    {
      "data": {"name": "yMinor"},
      "mark": {"type": "rule", "strokeWidth": 2, "color": "#111"},
      "encoding": {"y": {"field": "v", "type": "quantitative"}, "x": {"datum": 1.8, "type": "quantitative"}, "x2": {"datum": 1.7852}}
    },
    {
      "data": {"values": [{"x":0.217,"y":1.98,"t":"By courtesy of Corning Inc., Gerresheimer Glass and Nipro"}]},
      "mark": {"type": "text", "align": "left", "baseline": "alphabetic", "font": "Liberation Sans", "fontSize": 13.5, "fontStyle": "italic", "color": "#333"},
      "encoding": {"x": {"field": "x", "type": "quantitative"}, "y": {"field": "y", "type": "quantitative"}, "text": {"field": "t"}}
    },
    {
      "data": {"values": [{"x":1.121,"y":36.87,"t":"%T"},{"x":1.317,"y":36.87,"t":"= 100 * 10"}]},
      "mark": {"type": "text", "align": "left", "baseline": "alphabetic", "font": "Liberation Sans", "fontSize": 31, "fontWeight": "bold", "color": "#f21616"},
      "encoding": {"x": {"field": "x", "type": "quantitative"}, "y": {"field": "y", "type": "quantitative"}, "text": {"field": "t"}}
    },
    {
      "data": {"values": [{"x":1.218,"y":35.4,"t":"max"}]},
      "mark": {"type": "text", "align": "left", "baseline": "alphabetic", "font": "Liberation Sans", "fontSize": 19, "fontWeight": "bold", "color": "#f21616"},
      "encoding": {"x": {"field": "x", "type": "quantitative"}, "y": {"field": "y", "type": "quantitative"}, "text": {"field": "t"}}
    },
    {
      "data": {"values": [{"x":1.619,"y":38.7,"t":"-0.4*WT"}]},
      "mark": {"type": "text", "align": "left", "baseline": "alphabetic", "font": "Liberation Sans", "fontSize": 19, "fontWeight": "bold", "color": "#f21616"},
      "encoding": {"x": {"field": "x", "type": "quantitative"}, "y": {"field": "y", "type": "quantitative"}, "text": {"field": "t"}}
    },
    {
      "data": {"values": [{"x":1.113,"y":15.45,"t":"%T"},{"x":1.311,"y":15.45,"t":"= 100 * 10"}]},
      "mark": {"type": "text", "align": "left", "baseline": "alphabetic", "font": "Liberation Sans", "fontSize": 31, "fontWeight": "bold", "color": "#17831a"},
      "encoding": {"x": {"field": "x", "type": "quantitative"}, "y": {"field": "y", "type": "quantitative"}, "text": {"field": "t"}}
    },
    {
      "data": {"values": [{"x":1.210,"y":14.2,"t":"max"}]},
      "mark": {"type": "text", "align": "left", "baseline": "alphabetic", "font": "Liberation Sans", "fontSize": 19, "fontWeight": "bold", "color": "#17831a"},
      "encoding": {"x": {"field": "x", "type": "quantitative"}, "y": {"field": "y", "type": "quantitative"}, "text": {"field": "t"}}
    },
    {
      "data": {"values": [{"x":1.612,"y":17.25,"t":"-0.75*WT"}]},
      "mark": {"type": "text", "align": "left", "baseline": "alphabetic", "font": "Liberation Sans", "fontSize": 19, "fontWeight": "bold", "color": "#17831a"},
      "encoding": {"x": {"field": "x", "type": "quantitative"}, "y": {"field": "y", "type": "quantitative"}, "text": {"field": "t"}}
    }
  ]
}
